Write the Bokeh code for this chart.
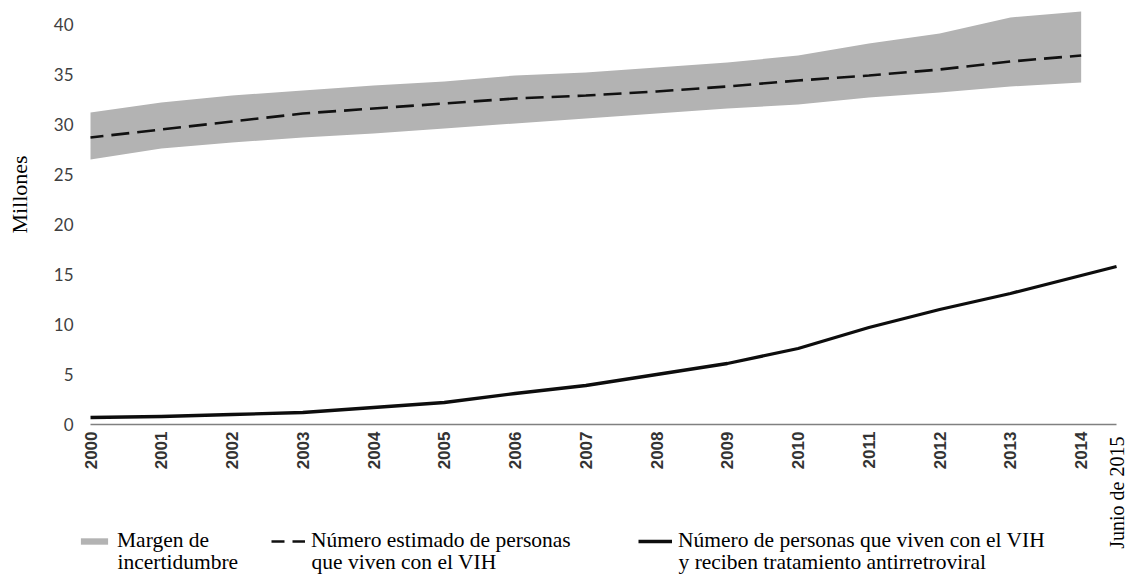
import math
from bokeh.plotting import figure
from bokeh.models import (Range1d, FixedTicker, Legend, LegendItem, Label,
                          ColumnDataSource)
from bokeh.embed import file_html
from bokeh.resources import INLINE

# ---------------- data (millions) ----------------
years = [2000, 2001, 2002, 2003, 2004, 2005, 2006, 2007, 2008, 2009,
         2010, 2011, 2012, 2013, 2014]
estimated = [28.7, 29.5, 30.3, 31.1, 31.6, 32.1, 32.6, 32.9, 33.3, 33.8,
             34.4, 34.9, 35.5, 36.3, 36.9]
upper = [31.2, 32.2, 32.9, 33.4, 33.9, 34.3, 34.9, 35.2, 35.7, 36.2,
         36.9, 38.1, 39.1, 40.7, 41.3]
lower = [26.5, 27.6, 28.2, 28.7, 29.1, 29.6, 30.1, 30.6, 31.1, 31.6,
         32.0, 32.7, 33.2, 33.8, 34.2]
art_x = years + [2014.5]
art = [0.7, 0.8, 1.0, 1.2, 1.7, 2.2, 3.1, 3.9, 5.0, 6.1,
       7.6, 9.7, 11.5, 13.1, 14.9, 15.8]
y_ticks = [0, 5, 10, 15, 20, 25, 30, 35, 40]
last_label = "Junio de 2015"
y_title = "Millones"
legend_first = ["Margen de",
                "Número estimado de personas",
                "Número de personas que viven con el VIH"]
legend_second = ["incertidumbre",
                 "que viven con el VIH",
                 "y reciben tratamiento antirretroviral"]

band_src = ColumnDataSource(dict(x=years, lo=lower, hi=upper, est=estimated))
art_src = ColumnDataSource(dict(x=art_x, y=art))

W, H = 1129, 574
# frame covers the whole canvas; axes are pinned with fixed_location
p = figure(width=W, height=H, output_backend="svg", toolbar_location=None,
           x_range=Range1d(1998.728, 2014.683), y_range=Range1d(-15.0, 42.4),
           min_border_left=0, min_border_right=0, min_border_top=0,
           min_border_bottom=0)
p.outline_line_color = None
p.xgrid.visible = False
p.ygrid.visible = False
p.background_fill_color = "white"
p.border_fill_color = "white"

band = p.varea(x="x", y1="lo", y2="hi", source=band_src, fill_color="#b3b3b3")
dashed = p.line(x="x", y="est", source=band_src, line_color="#111111",
                line_width=2.6, line_dash="18 8", line_dash_offset=5)
solid = p.line(x="x", y="y", source=art_src, line_color="#0d0d0d",
               line_width=3.3, line_join="round")

# axes
xa = p.xaxis[0]
xa.fixed_location = 0
xa.bounds = (2000, 2014.5)
xa.ticker = FixedTicker(ticks=years)
xa.major_label_orientation = math.pi / 2
xa.major_tick_out = 0
xa.major_tick_in = 0
xa.minor_tick_out = 0
xa.minor_tick_in = 0
xa.major_label_standoff = 7
xa.axis_line_color = "#808080"
xa.axis_line_width = 1.5
xa.major_label_text_font = "Liberation Sans"
xa.major_label_text_font_style = "bold"
xa.major_label_text_font_size = "17px"
xa.major_label_text_color = "#333333"

ya = p.yaxis[0]
ya.fixed_location = 2000
ya.bounds = (0, 40)
ya.ticker = FixedTicker(ticks=y_ticks)
ya.axis_line_color = None
ya.major_tick_out = 0
ya.major_tick_in = 0
ya.minor_tick_out = 0
ya.minor_tick_in = 0
ya.major_label_standoff = 17
ya.major_label_text_font = "Lato"
ya.major_label_text_font_size = "17px"
ya.major_label_text_color = "#3f3f3f"

serif = "Liberation Serif"
# y title
p.add_layout(Label(x=19, y=H - 194, x_units="screen", y_units="screen",
                   text=y_title, angle=math.pi / 2, text_align="center",
                   text_baseline="middle", text_font=serif,
                   text_font_size="22px", text_color="black"))
# last x label (June 2015)
p.add_layout(Label(x=2014.5, y=-1.2, x_units="data", y_units="data",
                   x_offset=0.5, text=last_label, angle=math.pi / 2,
                   text_align="right", text_baseline="middle",
                   text_font=serif, text_font_size="20px",
                   text_color="black"))

def make_legend(label, rend, loc):
    return Legend(items=[LegendItem(label=label, renderers=[rend])],
                  location=loc, orientation="vertical",
                  label_text_font=serif,
                  label_text_font_size="21.5px", label_text_color="black",
                  glyph_width=34, glyph_height=8, label_standoff=6,
                  padding=0, margin=0, spacing=0,
                  border_line_color=None, background_fill_color=None,
                  background_fill_alpha=0)

legend_x = [77, 271, 638]
for lab, rend, lx in zip(legend_first, [band, dashed, solid], legend_x):
    p.add_layout(make_legend(lab, rend, (lx, 21)), "center")
for lab, lx in zip(legend_second, legend_x):
    p.add_layout(Label(x=lx + 40, y=13, x_units="screen", y_units="screen",
                       text=lab, text_align="left", text_baseline="middle",
                       text_font=serif, text_font_size="21.5px",
                       text_color="black"))

open("out.html", "w").write(file_html(p, INLINE))
